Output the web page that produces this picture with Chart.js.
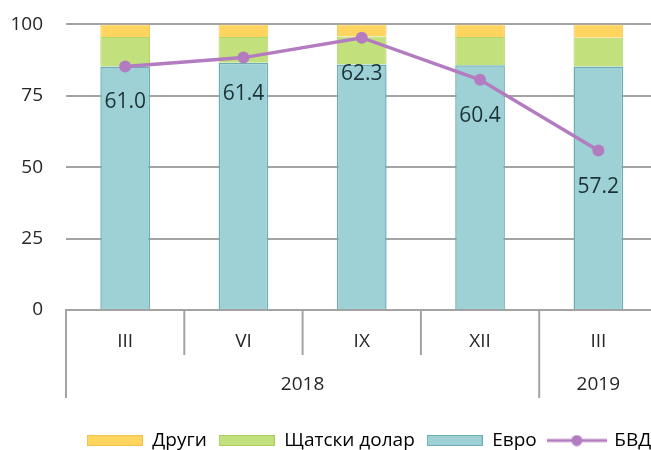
<!DOCTYPE html>
<html lang="mk">
<head>
<meta charset="UTF-8">
<title>Валутна структура</title>
<style>
  html, body { margin: 0; padding: 0; overflow: hidden; background: #fff; }
  /* the y tick padding pushes the plot 10px down, pull the canvas back up */
  .chart-box { width: 738px; height: 470px; margin-top: -10px; }
</style>
</head>
<body>
<script src="https://cdn.jsdelivr.net/npm/chart.js"></script>
<div class="chart-box"><canvas id="chart" width="738" height="470"></canvas></div>
<script>
// data
const quarters = ['III', 'VI', 'IX', 'XII', 'III'];
const years = ['2018', '2018', '2018', '2018', '2019'];
const euro = [85.3, 86.6, 86.0, 85.7, 85.3];
const usd = [10.3, 9.0, 9.8, 9.9, 10.0];
const other = [4.4, 4.4, 4.2, 4.4, 4.7];
const bvd = [61.0, 61.4, 62.3, 60.4, 57.2];
const yTicks = [0, 25, 50, 75, 100];

// colours
const YELLOW = '#FFD560', GREEN = '#C2E07B', TEAL = '#9DD1D5', TEAL_EDGE = '#6DAEB3';
const PURPLE = '#B47CC0', GRID = '#A3A3A3', TEXT = '#262626';
const FONT = 'Open Sans';

function boxIcon(fill, edge) {
  const c = document.createElement('canvas');
  c.width = 56; c.height = 11;
  const g = c.getContext('2d');
  g.fillStyle = fill;
  g.fillRect(0.5, 0.5, 55, 10);
  g.strokeStyle = edge;
  g.lineWidth = 1;
  g.strokeRect(0.5, 0.5, 55, 10);
  return c;
}
function lineIcon(col) {
  const c = document.createElement('canvas');
  c.width = 60; c.height = 12;
  const g = c.getContext('2d');
  g.strokeStyle = col; g.lineWidth = 3;
  g.beginPath(); g.moveTo(0, 6); g.lineTo(60, 6); g.stroke();
  g.fillStyle = col;
  g.beginPath(); g.arc(30, 6, 5.5, 0, Math.PI * 2); g.fill();
  return c;
}
const icons = [boxIcon(TEAL, TEAL_EDGE), boxIcon(GREEN, '#AACF60'), boxIcon(YELLOW, '#F0C24A'), lineIcon(PURPLE)];
const legendOrder = [2, 1, 0, 3];

// separators + year row under the x axis
const groupAxis = {
  id: 'groupAxis',
  afterDraw(chart) {
    const {ctx, scales: {x}} = chart;
    const n = quarters.length;
    const step = x.getPixelForValue(1) - x.getPixelForValue(0);
    const edge = i => x.getPixelForValue(i) - step / 2;
    ctx.save();
    ctx.strokeStyle = GRID;
    ctx.lineWidth = 2;
    for (let i = 0; i <= n; i++) {
      const newYear = i === 0 || i === n || years[i] !== years[i - 1];
      const len = newYear ? 88 : 45;
      ctx.beginPath();
      ctx.moveTo(edge(i), x.top);
      ctx.lineTo(edge(i), x.top + len);
      ctx.stroke();
    }
    ctx.font = `19px "${FONT}"`;
    ctx.fillStyle = TEXT;
    ctx.textAlign = 'center';
    ctx.textBaseline = 'middle';
    let start = 0;
    for (let i = 1; i <= n; i++) {
      if (i === n || years[i] !== years[start]) {
        ctx.fillText(years[start], (edge(start) + edge(i)) / 2, x.top + 75);
        start = i;
      }
    }
    ctx.restore();
  }
};

// values of the line written under each point
const pointLabels = {
  id: 'pointLabels',
  afterDatasetsDraw(chart) {
    const ctx = chart.ctx;
    const meta = chart.getDatasetMeta(3);
    ctx.save();
    ctx.font = `21px "${FONT}"`;
    ctx.fillStyle = '#1d3236';
    ctx.textAlign = 'center';
    ctx.textBaseline = 'middle';
    meta.data.forEach((pt, i) => ctx.fillText(bvd[i].toFixed(1), pt.x, pt.y + 36));
    ctx.restore();
  }
};

new Chart(document.getElementById('chart'), {
  data: {
    labels: quarters,
    datasets: [
      {type: 'bar', label: 'Евро', data: euro, backgroundColor: TEAL, borderColor: TEAL_EDGE, borderWidth: 1.5, order: 1},
      {type: 'bar', label: 'Щатски долар', data: usd, backgroundColor: GREEN, borderColor: '#B3D56C', borderWidth: 1, order: 1},
      {type: 'bar', label: 'Други', data: other, backgroundColor: YELLOW, borderColor: '#F4C955', borderWidth: 1, order: 1},
      {type: 'line', label: 'БВД', data: bvd, yAxisID: 'y1', borderColor: PURPLE, borderWidth: 3.5,
        pointRadius: 6, pointBackgroundColor: PURPLE, pointBorderWidth: 0, tension: 0, order: 0}
    ]
  },
  options: {
    responsive: false,
    animation: false,
    layout: {padding: {top: 14, bottom: 0}},
    datasets: {bar: {categoryPercentage: 1, barPercentage: 0.42}},
    scales: {
      x: {
        stacked: true,
        grid: {display: false, drawTicks: false},
        border: {color: GRID, width: 2},
        ticks: {font: {family: FONT, size: 19}, color: TEXT, padding: 20},
        afterFit: s => { s.height = 109; }
      },
      y: {
        stacked: true, min: 0, max: 100,
        afterBuildTicks: s => { s.ticks = yTicks.map(v => ({value: v})); },
        ticks: {font: {family: FONT, size: 19}, color: TEXT, padding: 23},
        grid: {color: GRID, lineWidth: 2, drawTicks: false},
        border: {display: false},
        afterFit: s => { s.width = 66; }
      },
      y1: {
        position: 'right', min: 50, max: 62.9,
        ticks: {display: false},
        grid: {display: false, drawTicks: false},
        border: {display: false},
        afterFit: s => { s.width = 80.5; }
      }
    },
    plugins: {
      tooltip: {enabled: false},
      legend: {
        position: 'bottom',
        labels: {
          usePointStyle: true, pointStyleWidth: 56, boxHeight: 11, padding: 12,
          font: {family: FONT, size: 19}, color: TEXT,
          generateLabels: chart => legendOrder.map(i => ({
            text: chart.data.datasets[i].label,
            pointStyle: icons[i],
            fillStyle: chart.data.datasets[i].backgroundColor,
            strokeStyle: chart.data.datasets[i].borderColor,
            lineWidth: 0,
            hidden: false,
            datasetIndex: i
          }))
        }
      }
    }
  },
  plugins: [groupAxis, pointLabels]
});
</script>
</body>
</html>
